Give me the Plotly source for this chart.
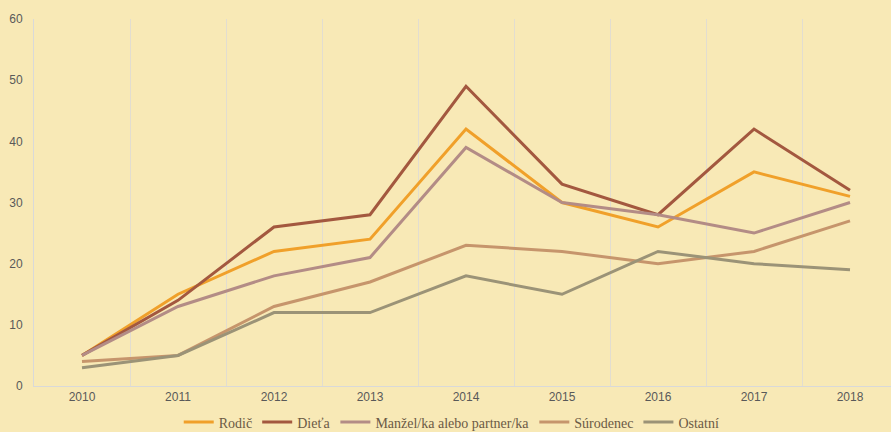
import plotly.graph_objects as go

years = ["2010", "2011", "2012", "2013", "2014", "2015", "2016", "2017", "2018"]
rodic = [5, 15, 22, 24, 42, 30, 26, 35, 31]
dieta = [5, 14, 26, 28, 49, 33, 28, 42, 32]
manzel = [5, 13, 18, 21, 39, 30, 28, 25, 30]
surodenec = [4, 5, 13, 17, 23, 22, 20, 22, 27]
ostatni = [3, 5, 12, 12, 18, 15, 22, 20, 19]

series = [
    ("Rodič", rodic, "#F0A02A"),
    ("Dieťa", dieta, "#A3583F"),
    ("Manžel/ka alebo partner/ka", manzel, "#B38C86"),
    ("Súrodenec", surodenec, "#C6956C"),
    ("Ostatní", ostatni, "#9B9377"),
]

fig = go.Figure()
for name, vals, col in series:
    fig.add_trace(go.Scatter(x=years, y=vals, name=name, mode="lines",
                             line=dict(color=col, width=3)))

fig.update_layout(
    width=891, height=432,
    margin=dict(l=34, r=0, t=19, b=46, autoexpand=False),
    paper_bgcolor="#F8E9B6",
    plot_bgcolor="rgba(0,0,0,0)",
    showlegend=True,
    legend=dict(orientation="h", x=0.507, xref="container", xanchor="center",
                y=0.022, yref="container", yanchor="middle",
                font=dict(family="Liberation Serif", size=14, color="#6B5A45"),
                bgcolor="rgba(0,0,0,0)", itemwidth=30, tracegroupgap=0),
    xaxis=dict(type="category", range=[-0.5, 8.427], showgrid=True, tickson="boundaries",
               gridcolor="#E2DDD0", gridwidth=1, showline=True, linecolor="#D9D9D9",
               ticks="", tickfont=dict(family="Liberation Sans", size=12, color="#595959"),
               automargin=False),
    yaxis=dict(range=[0, 60], dtick=10, showgrid=False, zeroline=False, showline=True,
               linecolor="#D9D9D9", ticks="", ticklabelstandoff=8, automargin=False,
               tickfont=dict(family="Liberation Sans", size=12, color="#595959")),
)

fig.write_html("out.html", config={"displayModeBar": False},
               post_script="document.body.style.margin='0';")
